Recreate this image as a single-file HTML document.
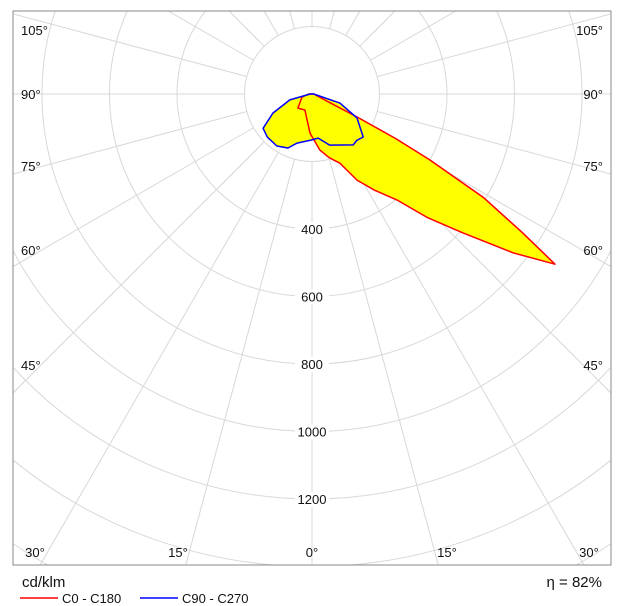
<!DOCTYPE html>
<html><head><meta charset="utf-8"><style>
html,body{margin:0;padding:0;background:#fff;overflow:hidden;width:627px;height:606px;}
svg{display:block;font-family:"Liberation Sans","DejaVu Sans",sans-serif;}
</style></head><body>
<svg id="chart" width="627" height="606" viewBox="0 0 627 606">
<defs><clipPath id="clip"><rect x="13" y="11" width="598" height="554"/></clipPath></defs>
<rect x="0" y="0" width="627" height="606" fill="#fff"/>
<g id="grid" clip-path="url(#clip)"></g>
<g id="series" clip-path="url(#clip)"></g>
<g id="labels"></g>
<rect x="13" y="11" width="598" height="554" fill="none" stroke="#888" stroke-width="1"/>
<text x="22" y="587" font-size="15" fill="#111">cd/klm</text>
<text x="602" y="587" font-size="15" fill="#111" text-anchor="end">η = 82%</text>
<line x1="20" y1="598" x2="58" y2="598" stroke="#f00" stroke-width="1.5"/>
<text x="62" y="603" font-size="13" fill="#111">C0 - C180</text>
<line x1="140" y1="598" x2="178" y2="598" stroke="#00f" stroke-width="1.5"/>
<text x="182" y="603" font-size="13" fill="#111">C90 - C270</text>
</svg>
<script>
const ringValues = [200, 400, 600, 800, 1000, 1200, 1400, 1600, 1800];
const ringLabels = ["400", "600", "800", "1000", "1200"];
const ringLabelValues = [400, 600, 800, 1000, 1200];
const angleLabelsLeft = ["105°", "90°", "75°", "60°", "45°"];
const angleLabelsBottom = ["30°", "15°", "0°", "15°", "30°"];
const redGamma = [-180, -90, -73, -45, -24, -3, 8, 15, 22, 27.6, 33, 38.7, 43, 47.4, 51.7, 55, 56.6, 58.9, 60.8, 62, 63, 65, 90, 180];
const redValues = [0, 10, 31, 59, 52, 116, 168, 195, 221, 288, 340, 402, 500, 608, 759, 879, 749, 592, 400, 280, 150, 40, 5, 0];
const blueGamma = [-180, -90, -75, -64, -55, -46, -34, -24, -17, 0, 8, 19, 39, 44, 50, 62, 72, 90, 180];
const blueValues = [0, 5, 68, 129, 177, 184, 186, 175, 152, 136, 132, 160, 194, 191, 198, 151, 87, 5, 0];

const cx = 312, cy = 94, scale = 67.5 / 200;
const NS = "http://www.w3.org/2000/svg";
function rScale(v){ return v * scale; }
function px(g, v){ return cx + rScale(v) * Math.sin(g * Math.PI / 180); }
function py(g, v){ return cy + rScale(v) * Math.cos(g * Math.PI / 180); }

const grid = document.getElementById('grid');
for (const v of ringValues) {
  const c = document.createElementNS(NS, 'circle');
  c.setAttribute('cx', cx); c.setAttribute('cy', cy); c.setAttribute('r', rScale(v));
  c.setAttribute('fill', 'none'); c.setAttribute('stroke', '#d8d8d8'); c.setAttribute('stroke-width', '1');
  
  
  grid.appendChild(c);
}
for (let a = 0; a < 360; a += 15) {
  const l = document.createElementNS(NS, 'line');
  l.setAttribute('x1', px(a, 200)); l.setAttribute('y1', py(a, 200));
  l.setAttribute('x2', px(a, 2200)); l.setAttribute('y2', py(a, 2200));
  l.setAttribute('stroke', '#d8d8d8'); l.setAttribute('stroke-width', '1');
  
  
  grid.appendChild(l);
}

const series = document.getElementById('series');
function poly(gs, vs){ return gs.map((g,i)=>px(g,vs[i]).toFixed(1)+','+py(g,vs[i]).toFixed(1)).join(' '); }
function addPoly(gs, vs, fill, stroke, name){
  const p = document.createElementNS(NS, 'polygon');
  p.setAttribute('points', poly(gs, vs));
  p.setAttribute('fill', fill); p.setAttribute('stroke', stroke); p.setAttribute('stroke-width', '1.5');
  p.setAttribute('stroke-linejoin', 'round');
  
  
  series.appendChild(p);
}
addPoly(redGamma, redValues, '#ffff00', 'none', 'c0-c180-fill');
addPoly(blueGamma, blueValues, '#ffff00', 'none', 'c90-c270-fill');
addPoly(redGamma, redValues, 'none', '#ff0000', 'c0-c180-curve');
addPoly(blueGamma, blueValues, 'none', '#0000ff', 'c90-c270-curve');

const labels = document.getElementById('labels');
function addText(x, y, s, anchor, name){
  const t = document.createElementNS(NS, 'text');
  t.setAttribute('x', x); t.setAttribute('y', y); t.setAttribute('font-size', '13');
  t.setAttribute('fill', '#111'); t.setAttribute('text-anchor', anchor);
  t.textContent = s;
  
  
  labels.appendChild(t);
}
ringLabels.forEach((s,i)=>{
  const y = cy + rScale(ringLabelValues[i]) + 5;
  const bg = document.createElementNS(NS, 'rect');
  bg.setAttribute('x', cx-17); bg.setAttribute('y', y-12); bg.setAttribute('width', 34); bg.setAttribute('height', 15);
  bg.setAttribute('fill', '#fff');
  
  
  labels.appendChild(bg);
  addText(cx, y, s, 'middle', 'ring-label');
});
const sideY = [30, 94, 166, 250, 365];
angleLabelsLeft.forEach((s,i)=>{
  addText(21, sideY[i]+5, s, 'start', 'angle-label-left');
  addText(603, sideY[i]+5, s, 'end', 'angle-label-right');
});
const bottomX = [35, 178, 312, 447, 589];
angleLabelsBottom.forEach((s,i)=>{
  addText(bottomX[i], 557, s, 'middle', 'angle-label-bottom');
});
</script>
</body></html>
